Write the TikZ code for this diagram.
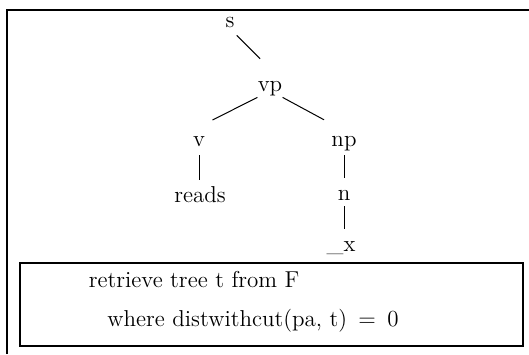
\documentclass[tikz,border=0pt]{standalone}
\begin{document}
\begin{tikzpicture}[x=0.5pt,y=-0.5pt]
        \tikzstyle{lbl} = [anchor=base, inner sep=0pt, text height=11pt, text depth=3pt, font=\fontsize{11.5}{13.5}\selectfont]
        \tikzstyle{edge} = [line width=0.5pt]
        \tikzstyle{txt} = [anchor=base west, inner sep=0pt, font=\fontsize{11.5}{13.5}\selectfont]
        \tikzstyle{frame} = [line width=0.6pt]

                \useasboundingbox (0,0) rectangle (529,354);

                % outer frame
                \coordinate (fbl) at (7,354);
                \coordinate (ftl) at (7,10);
                \coordinate (ftr) at (529,10);
                \draw[frame] (fbl) -- (ftl) -- (ftr);

                % tree
                \node (s) [lbl] at (230,27) {s};
                \node (vp) [lbl] at (270,91) {vp};
                \node (v) [lbl] at (199,146) {v};
                \node (np) [lbl] at (344,146) {np};
                \node (reads) [lbl] at (200,202) {reads};
                \node (n) [lbl] at (344,200) {n};
                \node (x) [lbl] at (341,251) {\_x};

                \draw[edge, shorten <=1.4pt, shorten >=7pt] (s.south east) -- (vp.north);
                \draw[edge, shorten >=4pt] (vp.south west) -- (v.north east);
                \draw[edge, shorten >=4pt] (vp.south east) -- (np.north west);
                \draw[edge, shorten <=1.5pt] (v.south) -- (v.south |- reads.north);
                \draw[edge, shorten <=1.5pt] (np.south) -- (n.north);
                \draw[edge] (n.south) -- (n.south |- x.north);

                % query box
                \node (query) [draw, frame, minimum width=251.5pt, minimum height=41.5pt, inner sep=0pt] at (271.5,304.5) {};
                \node (q1) [txt] at (88.5,287) {retrieve tree t from F};
                \node (q2) [txt] at (107,326) {where distwithcut(pa, t) \,=\, 0};
    \end{tikzpicture}
\end{document}
